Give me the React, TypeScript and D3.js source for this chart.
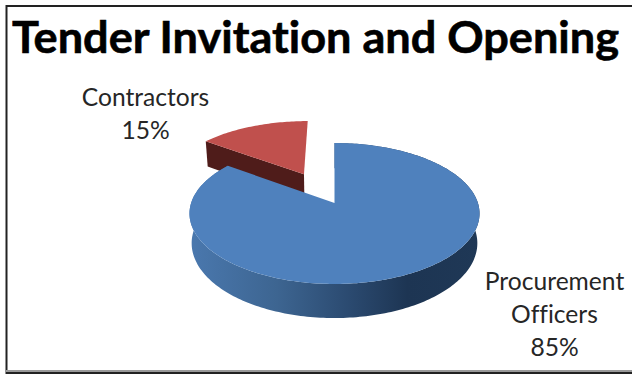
import React from "react";
import * as d3 from "d3";

const title = "Tender Invitation and Opening";
const categories = ["Procurement Officers", "Contractors"];
const shares = [85, 15];
const explodedShare = [0, 0.5];
const topColors = ["#4f81bd", "#c0504d"];
const wallColors = ["#4a78ae", "#4f1c1a"];

const W = 632;
const H = 374;
const cx = 334.5;
const cy = 203;
const a = 143.4;
const b = 68.9;
const k = 0.149;
const depth = 29;

// Perspective projection of a point on the unit disc, lifted or lowered by z (0 top, 1 bottom).
function project(X: number, Y: number, z = 0): [number, number] {
  const s = 1 / (1 + k * Y);
  return [cx + a * X * s * (1 - 0.015 * z), cy - b * Y * s + depth * s * z];
}

const slices = d3
  .pie<number>()
  .sort(null)
  .startAngle(0)
  .endAngle(2 * Math.PI)(shares);

const line = d3.line();

function arcPoints(start: number, end: number, ox: number, oy: number, z: number) {
  const n = Math.max(2, Math.ceil(Math.abs(end - start) / 0.02));
  return d3.range(n + 1).map((i) => {
    const t = start + ((end - start) * i) / n;
    return project(ox + Math.sin(t), oy + Math.cos(t), z);
  });
}

export default function App() {
  const parts = slices.map((s, i) => {
    const mid = (s.startAngle + s.endAngle) / 2;
    const ox = Math.sin(mid) * explodedShare[i];
    const oy = Math.cos(mid) * explodedShare[i];
    const top = arcPoints(s.startAngle, s.endAngle, ox, oy, 0);
    const bottom = arcPoints(s.startAngle, s.endAngle, ox, oy, 1);
    const apex = project(ox, oy, 0);
    const apexLow = project(ox, oy, 1);
    return { top, bottom, apex, apexLow };
  });
  const [blue, red] = parts;
  const redStart = red.top[0];
  const redStartLow = red.bottom[0];

  return (
    <svg
      width={W}
      height={H}
      viewBox={`0 0 ${W} ${H}`}
      style={{ position: "absolute", left: 0, top: 0, background: "#fff" }}
    >
      <defs>
        <linearGradient id="wall" gradientUnits="userSpaceOnUse" x1={190} x2={480} y1={0} y2={0}>
          <stop offset="0" stopColor={wallColors[0]} />
          <stop offset="0.3" stopColor="#3d6591" />
          <stop offset="0.55" stopColor="#2b4a70" />
          <stop offset="0.75" stopColor="#1d3553" />
          <stop offset="1" stopColor="#1f3856" />
        </linearGradient>
      </defs>

      {/* Frame: open on the right, soft double rule along the bottom */}
      <line x1={6.5} x2={W} y1={6} y2={6} stroke="#222" strokeWidth={2} />
      <line x1={6.5} x2={6.5} y1={5} y2={H} stroke="#222" strokeWidth={2} />
      <line x1={6} x2={W} y1={371} y2={371} stroke="#999" strokeWidth={2} />
      <line x1={6} x2={W} y1={373} y2={373} stroke="#222" strokeWidth={2} />

      <text
        x={12}
        y={53}
        fontFamily="Lato"
        fontWeight={700}
        fontSize={44}
        textLength={607}
        lengthAdjust="spacingAndGlyphs"
        fill="#000"
        stroke="#000"
        strokeWidth={0.6}
        style={{ fontVariantLigatures: "none" }}
      >
        {title}
      </text>

      {/* Exploded slice: visible cut wall first, top face above it */}
      <path
        d={line([red.apex, redStart, redStartLow, red.apexLow])! + "Z"}
        fill={wallColors[1]}
      />
      <path d={line([red.apex, ...red.top])! + "Z"} fill={topColors[1]} />

      {/* Main slice: rim, then top face */}
      <path
        d={line([...blue.top, ...blue.bottom.slice().reverse()])! + "Z"}
        fill="url(#wall)"
      />
      <path d={line([blue.apex, ...blue.top])! + "Z"} fill={topColors[0]} />

      <g
        fontFamily="Lato"
        fontSize={24.6}
        fill="#262626"
        textAnchor="middle"
        style={{ fontVariantLigatures: "none" }}
      >
        <text x={145.5} y={106}>{categories[1]}</text>
        <text x={145.5} y={139}>{shares[1]}%</text>
        <text x={554.5} y={290}>Procurement</text>
        <text x={554.5} y={323}>Officers</text>
        <text x={554.5} y={356}>{shares[0]}%</text>
      </g>
    </svg>
  );
}
